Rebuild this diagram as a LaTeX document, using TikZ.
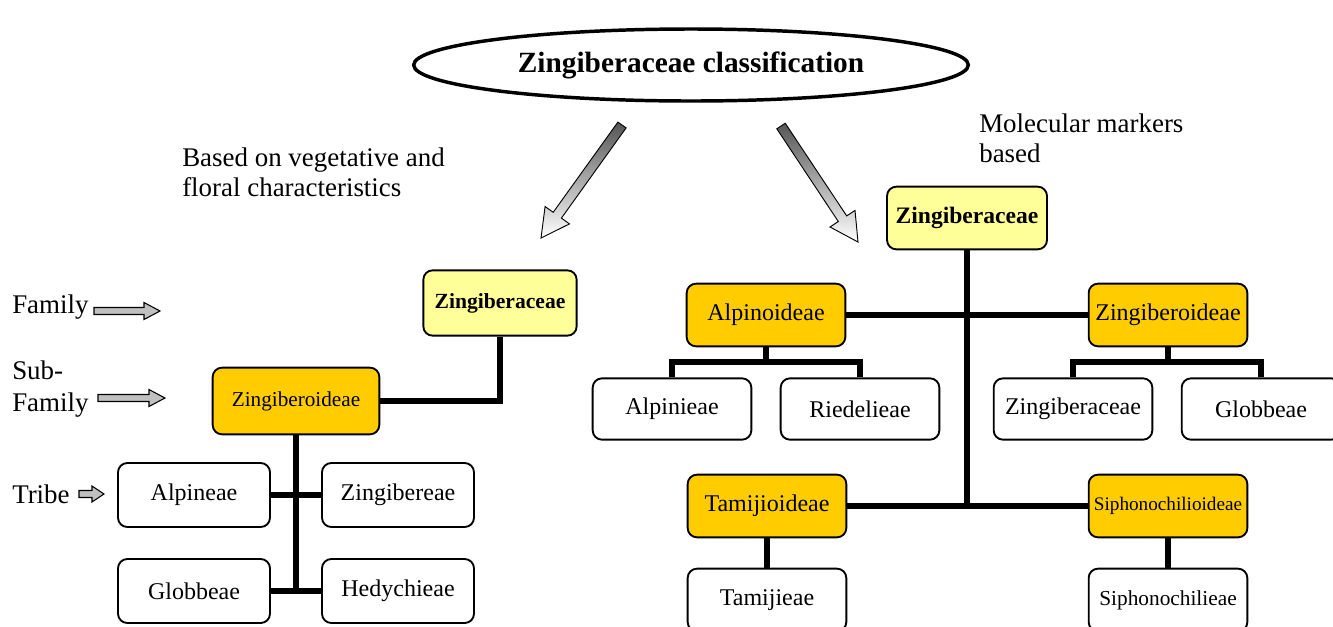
\documentclass[tikz,border=0pt]{standalone}
\usepackage{fontspec}
\setmainfont{Liberation Serif}
\usetikzlibrary{shapes.geometric,calc}
\definecolor{lyel}{HTML}{FFFF99}
\definecolor{goldc}{HTML}{FFCC00}
\definecolor{agray}{HTML}{C0C0C0}
\definecolor{darkg}{HTML}{555555}
\begin{document}
\begin{tikzpicture}[x=0.75pt,y=-0.75pt,
  box/.style={draw, line width=1.4pt, rounded corners=7pt, inner sep=0pt, align=center, font=\fontsize{18}{20}\selectfont},
  tribe/.style={box, fill=white, minimum width=119pt, minimum height=46pt},
  sub/.style={box, fill=goldc, minimum width=119pt, minimum height=47pt},
  fam/.style={box, fill=lyel, minimum width=120pt, minimum height=47pt, font=\fontsize{17.7}{20}\selectfont\bfseries},
  conn/.style={line width=4.6pt},
  lbl/.style={font=\fontsize{20.2}{22.5}\selectfont, align=left, inner sep=0pt, anchor=west},
  blockarrow/.style={draw, line width=0.8pt, fill=agray},
  bigarrow/.style={draw, line width=0.7pt, top color=darkg, bottom color=white}
]
\useasboundingbox (0,0) rectangle (1333,626);

% title
\node[ellipse, draw, line width=2.6pt, minimum width=416pt, minimum height=54pt,
      font=\fontsize{22}{24}\selectfont\bfseries] (title) at (691,65) {Zingiberaceae classification};

% big shaded arrows
\draw[bigarrow] (626.1,127.9) -- (561.4,218.1) -- (569.5,223.9) -- (541,238) -- (545.1,206.5) -- (553.2,212.3) -- (617.9,122.1) -- cycle;
\draw[bigarrow] (785.2,123.2) -- (846.7,215.9) -- (855,210.4) -- (858,242) -- (830,227) -- (838.3,221.5) -- (776.8,128.8) -- cycle;

% side texts
\node[lbl] (veg) at (182,172) {Based on vegetative and\\floral characteristics};
\node[lbl] (mol) at (979,138) {Molecular markers\\based};

% level labels
\node[lbl] (lfamily) at (12,307) {Family};
\node[lbl, font=\fontsize{20.2}{24.5}\selectfont] (lsubfam) at (12,389) {Sub-\\Family};
\node[lbl] (ltribe) at (12,494) {Tribe};
\draw[blockarrow] (94,307.5) -- (144,307.5) -- (144,302.5) -- (160,311) -- (144,319.5) -- (144,314.5) -- (94,314.5) -- cycle;
\draw[blockarrow] (98,394.5) -- (149,394.5) -- (149,389.5) -- (165,398) -- (149,406.5) -- (149,401.5) -- (98,401.5) -- cycle;
\draw[blockarrow] (79,490.5) -- (92,490.5) -- (92,486) -- (104,494) -- (92,502) -- (92,497.5) -- (79,497.5) -- cycle;

% left tree
\node[fam, minimum width=115pt, minimum height=49pt, font=\fontsize{16.2}{18}\selectfont\bfseries] (lfam) at (500,303) {Zingiberaceae};
\node[sub, minimum width=125pt, minimum height=50pt, font=\fontsize{15.9}{18}\selectfont] (lsub) at (296,401) {Zingiberoideae};
\node[tribe, minimum width=114pt, minimum height=48pt] (lalp) at (194,495) {Alpineae};
\node[tribe, minimum width=114pt, minimum height=48pt] (lzin) at (398,495) {Zingibereae};
\node[tribe, minimum width=114pt, minimum height=48pt] (lglo) at (194,591) {Globbeae};
\node[tribe, minimum width=114pt, minimum height=48pt] (lhed) at (398,591) {Hedychieae};

\draw[conn] (lfam.south) |- (lsub.east);
\draw[conn] (lsub.south) -- (lsub.south |- lglo.east);
\draw[conn] (lalp.east) -- (lzin.west);
\draw[conn] (lglo.east) -- (lhed.west);

% right tree
\node[fam] (rfam) at (967,218) {Zingiberaceae};
\node[sub] (ralp) at (766,315) {Alpinoideae};
\node[sub] (rzin) at (1168,315) {Zingiberoideae};
\node[tribe] (alpi) at (672,409) {Alpinieae};
\node[tribe] (ried) at (860,409) {Riedelieae};
\node[tribe] (rzg) at (1073,409) {Zingiberaceae};
\node[tribe] (rglo) at (1261,409) {Globbeae};
\node[sub] (rtam) at (767,506) {Tamijioideae};
\node[sub, font=\fontsize{14.4}{16}\selectfont] (rsip) at (1168,506) {Siphonochilioideae};
\node[tribe, minimum height=47pt] (tami) at (767,600) {Tamijieae};
\node[tribe, minimum height=47pt, font=\fontsize{16}{18}\selectfont] (siph) at (1168,600) {Siphonochilieae};

\coordinate (ja) at ($(ralp.south)+(0,15)$);
\coordinate (jz) at ($(rzin.south)+(0,15)$);

\draw[conn] (rfam.south) -- (rfam.south |- rtam.east);
\draw[conn] (ralp.east) -- (rzin.west);
\draw[conn] (rtam.east) -- (rsip.west);
\draw[conn] (ralp.south) -- (ja);
\draw[conn] (alpi.north) |- (ja) -| (ried.north);
\draw[conn] (rzin.south) -- (jz);
\draw[conn] (rzg.north) |- (jz) -| (rglo.north);
\draw[conn] (rtam.south) -- (tami.north);
\draw[conn] (rsip.south) -- (siph.north);
\end{tikzpicture}
\end{document}
